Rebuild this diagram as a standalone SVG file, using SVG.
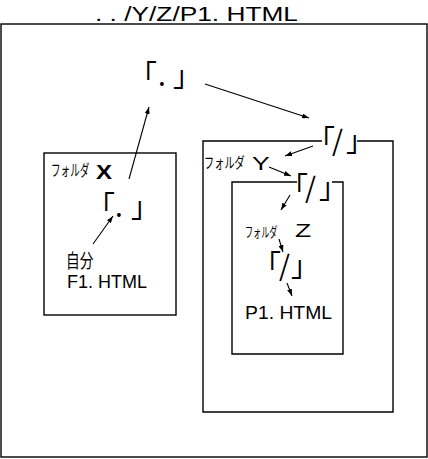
<svg xmlns="http://www.w3.org/2000/svg" width="428" height="459" viewBox="0 0 428 459">
<defs>
<marker id="ah" markerWidth="7" markerHeight="5" refX="7" refY="2.5" orient="auto" markerUnits="userSpaceOnUse"><path d="M0,0 L7,2.5 L0,5 z" fill="#000"/></marker>
<style>
.box{fill:none;stroke:#000;stroke-width:1.4}
.ar{fill:none;stroke:#000;stroke-width:1.1;marker-end:url(#ah)}
.lat{font-family:"Liberation Sans",Arial,sans-serif;fill:#000}
.jp{font-family:"Noto Sans CJK JP","Noto Sans CJK SC",sans-serif;fill:#000}
.br{font-family:"Noto Sans CJK JP","Noto Sans CJK SC",sans-serif;fill:#000;font-size:28px}
</style>
</defs>
<rect fill="#fff" x="0" y="0" width="428" height="459"/>
<g id="title"><text class="lat" x="95" y="21" font-size="21" textLength="203" lengthAdjust="spacingAndGlyphs">. . /Y/Z/P1. HTML</text></g>
<g id="outer"><rect class="box" x="1" y="24" width="426" height="433"/></g>
<g id="root-dot"><text class="br" x="129 158 173" y="86">「.」</text></g>
<g id="folderX">
<rect class="box" x="44" y="153" width="132" height="162"/>
<text class="jp" transform="translate(51,176) scale(0.6,1)" font-size="16">フォルダ</text>
<text class="lat" transform="translate(96,179) scale(1.2,1)" font-size="20" font-weight="bold">X</text>
<text class="br" x="87 115 131" y="217">「.」</text>
<text class="jp" transform="translate(66,268) scale(0.72,1)" font-size="19">自分</text>
<text class="lat" x="67" y="288" font-size="19" textLength="80" lengthAdjust="spacingAndGlyphs">F1. HTML</text>
</g>
<g id="folderY">
<path class="box" d="M322,141 H203 V412 H393 V141 H357"/>
<text class="br" x="307 332 346" y="151">「/」</text>
<text class="jp" transform="translate(204,168) scale(0.68,1)" font-size="15">フォルダ</text>
<text class="lat" transform="translate(252,170) scale(1.4,1)" font-size="19">Y</text>
</g>
<g id="folderZ">
<path class="box" d="M297,182 H232 V354 H343 V182 H332"/>
<text class="br" x="280 305 319" y="198">「/」</text>
<text class="jp" transform="translate(245,237) scale(0.58,1)" font-size="14">フォルダ</text>
<text class="lat" transform="translate(295,237) scale(1.4,1)" font-size="19">Z</text>
<text class="br" x="253 279 291" y="276">「/」</text>
<text class="lat" x="245" y="319" font-size="19" textLength="87" lengthAdjust="spacingAndGlyphs">P1. HTML</text>
</g>
<g id="connectors">
<line class="ar" x1="129" y1="179" x2="149" y2="107"/>
<line class="ar" x1="205" y1="84" x2="309" y2="118"/>
<line class="ar" x1="313" y1="146" x2="285" y2="156"/>
<line class="ar" x1="269" y1="167" x2="291" y2="176"/>
<line class="ar" x1="290" y1="195" x2="281" y2="210"/>
<line class="ar" x1="279" y1="239" x2="283" y2="252"/>
<line class="ar" x1="287" y1="283" x2="292" y2="296"/>
<line class="ar" x1="93" y1="244" x2="113" y2="216"/>
</g>
</svg>
